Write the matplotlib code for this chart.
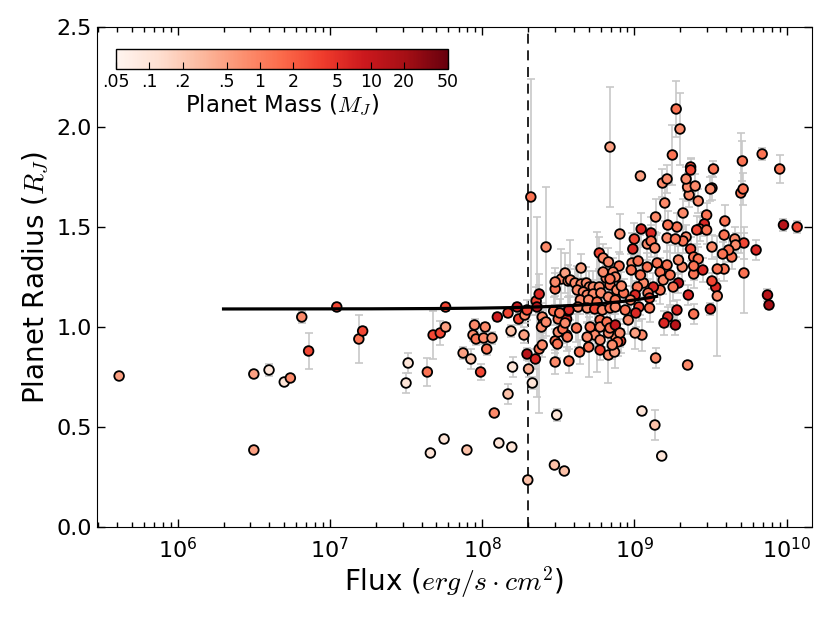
import numpy as np
import matplotlib
matplotlib.use("Agg")
import matplotlib.pyplot as plt
from matplotlib.colors import LogNorm

plt.rcParams['mathtext.fontset'] = 'cm'
plt.rcParams['font.family'] = 'DejaVu Sans'

# log10 of incident flux (erg/s/cm^2)
log_flux = [
    5.615, 6.50, 6.60, 6.70, 6.74, 6.815, 6.86, 7.045, 7.19, 7.215,
    6.50, 7.514, 7.50, 7.64, 7.678, 7.725, 7.76, 7.76, 7.875, 7.926,
    7.95, 7.94, 7.96, 7.99, 8.01, 8.02, 8.03, 8.065, 8.10, 8.08,
    7.66, 7.75, 7.90, 8.11, 8.17, 8.195, 8.17, 8.19, 8.20, 8.23,
    8.24, 8.275, 8.28, 8.295, 8.305, 8.33, 8.30, 8.35, 8.375, 8.32,
    8.42, 8.84, 9.275, 9.30, 9.25, 9.04, 9.37, 9.52, 9.71, 9.84,
    9.955, 9.98, 10.07, 9.875, 9.885, 9.80, 9.72, 9.72, 9.70, 9.715,
    9.66, 9.665, 9.64, 9.62, 9.59, 9.58, 9.595, 9.59, 9.51, 9.50,
    9.535, 9.51, 9.545, 9.51, 9.50, 9.475, 9.46, 9.45, 9.43, 9.42,
    9.36, 9.35, 9.40, 9.34, 9.37, 9.32, 9.20, 9.185, 9.215, 9.14,
    9.28, 9.22, 9.34, 9.32, 9.37, 9.39, 9.42, 9.29, 9.28, 9.27,
    9.22, 9.195, 9.39, 9.355, 9.05, 9.005, 9.14, 9.35, 9.05, 9.135,
    9.18, 8.395, 8.49, 8.48, 8.57, 8.475, 8.54, 8.64, 8.70, 8.775,
    8.83, 8.87, 8.91, 8.875, 8.83, 8.74, 8.555, 8.48, 8.50, 8.295,
    8.355, 8.375, 8.36, 8.395, 8.40, 8.39, 8.42, 8.47, 8.48, 8.52,
    8.545, 8.565, 8.50, 8.555, 8.53, 8.565, 8.77, 8.795, 8.83, 8.90,
    8.905, 8.65, 8.58, 8.61, 8.65, 8.685, 8.705, 8.73, 8.77, 8.815,
    8.86, 8.875, 8.84, 8.885, 8.93, 8.625, 8.665, 8.69, 8.73, 8.78,
    8.83, 8.875, 8.645, 8.70, 8.755, 8.63, 8.69, 8.74, 8.79, 8.84,
    8.875, 8.57, 8.51, 8.545, 8.62, 8.71, 8.775, 8.775, 8.82, 8.84,
    8.875, 8.905, 8.89, 8.495, 8.56, 8.69, 8.855, 8.48, 8.795, 8.84,
    8.915, 9.0, 9.045, 8.99, 8.985, 8.98, 9.025, 9.11, 9.085, 9.11,
    9.135, 9.215, 9.27, 9.41, 9.475, 9.39, 9.15, 9.17, 9.19, 9.215,
    9.235, 9.255, 9.17, 9.125, 9.09, 9.06, 9.04, 9.085, 9.315, 9.29,
    9.39, 9.02, 9.005, 9.10, 9.03, 9.01, 9.10, 9.545, 8.94, 8.96,
    8.975, 8.775,
]

# planet radius (R_J)
radius = [
    0.755, 0.765, 0.785, 0.725, 0.745, 1.05, 0.88, 1.10, 0.94, 0.98,
    0.385, 0.82, 0.72, 0.775, 0.96, 0.97, 1.00, 1.10, 0.87, 0.84,
    1.01, 0.96, 0.94, 0.775, 0.945, 1.00, 0.89, 0.945, 1.05, 0.57,
    0.37, 0.44, 0.385, 0.42, 0.665, 0.40, 1.07, 0.98, 0.80, 1.10,
    1.04, 0.96, 1.06, 0.865, 0.79, 0.72, 0.235, 0.84, 0.89, 1.65,
    1.40, 1.90, 2.09, 1.99, 1.86, 1.755, 1.80, 1.79, 1.83, 1.865,
    1.79, 1.51, 1.50, 1.16, 1.11, 1.385, 1.42, 1.27, 1.67, 1.69,
    1.44, 1.41, 1.35, 1.385, 1.46, 1.365, 1.53, 1.29, 1.40, 1.09,
    1.20, 1.23, 1.29, 1.695, 1.69, 1.56, 1.515, 1.285, 1.49, 1.63,
    1.66, 1.70, 1.705, 1.74, 1.785, 1.57, 1.62, 1.72, 1.74, 1.55,
    1.50, 1.51, 1.45, 1.43, 1.39, 1.35, 1.34, 1.22, 1.085, 1.01,
    1.05, 1.02, 1.065, 1.16, 0.96, 0.97, 0.845, 0.81, 0.58, 0.51,
    0.355, 0.91, 0.56, 0.825, 0.83, 0.31, 0.28, 0.875, 0.90, 0.885,
    0.86, 0.875, 0.93, 0.955, 0.97, 0.96, 0.96, 0.93, 0.975, 1.085,
    1.13, 1.165, 1.10, 1.05, 1.015, 1.00, 1.025, 1.08, 1.19, 1.24,
    1.27, 1.23, 1.04, 1.04, 0.99, 1.08, 1.37, 1.345, 1.325, 1.305,
    1.465, 1.295, 1.235, 1.22, 1.215, 1.22, 1.20, 1.20, 1.20, 1.245,
    1.275, 1.25, 1.21, 1.185, 1.17, 1.185, 1.175, 1.16, 1.165, 1.17,
    1.15, 1.135, 1.135, 1.135, 1.125, 1.10, 1.095, 1.09, 1.085, 1.095,
    1.10, 1.085, 1.07, 1.02, 0.995, 1.00, 1.035, 1.00, 1.025, 0.995,
    1.01, 0.97, 0.925, 0.915, 0.95, 0.95, 0.91, 1.225, 1.275, 1.24,
    1.205, 1.44, 1.49, 1.39, 1.32, 1.285, 1.33, 1.47, 1.415, 1.43,
    1.395, 1.445, 1.44, 1.485, 1.485, 1.265, 1.32, 1.275, 1.235, 1.31,
    1.26, 1.20, 1.185, 1.20, 1.17, 1.22, 1.26, 1.30, 1.30, 1.335,
    1.305, 1.20, 1.16, 1.145, 1.10, 1.07, 1.095, 1.155, 1.085, 1.035,
    1.135, 0.935,
]

radius_err = [
    0.01, 0.01, 0.03, 0.01, 0.01, 0.03, 0.09, 0.02, 0.12, 0.02,
    0.01, 0.05, 0.05, 0.07, 0.12, 0.06, 0.02, 0.02, 0.03, 0.05,
    0.03, 0.03, 0.03, 0.04, 0.03, 0.02, 0.03, 0.03, 0.02, 0.01,
    0.01, 0.02, 0.01, 0.01, 0.05, 0.02, 0.02, 0.03, 0.05, 0.02,
    0.03, 0.04, 0.04, 0.03, 0.04, 0.03, 0.02, 0.05, 0.32, 0.59,
    0.30, 0.30, 0.14, 0.18, 0.15, 0.02, 0.04, 0.04, 0.10, 0.03,
    0.07, 0.03, 0.03, 0.03, 0.02, 0.05, 0.08, 0.20, 0.30, 0.08,
    0.06, 0.06, 0.06, 0.06, 0.08, 0.06, 0.08, 0.06, 0.06, 0.03,
    0.04, 0.04, 0.06, 0.06, 0.06, 0.06, 0.06, 0.06, 0.06, 0.06,
    0.06, 0.07, 0.06, 0.06, 0.06, 0.07, 0.09, 0.07, 0.07, 0.09,
    0.07, 0.07, 0.06, 0.06, 0.06, 0.06, 0.06, 0.05, 0.05, 0.05,
    0.05, 0.06, 0.05, 0.05, 0.08, 0.08, 0.05, 0.02, 0.02, 0.075,
    0.01, 0.06, 0.03, 0.06, 0.06, 0.01, 0.01, 0.06, 0.15, 0.05,
    0.14, 0.08, 0.06, 0.07, 0.07, 0.07, 0.06, 0.06, 0.06, 0.05,
    0.07, 0.10, 0.45, 0.07, 0.07, 0.07, 0.07, 0.07, 0.08, 0.15,
    0.10, 0.08, 0.07, 0.07, 0.07, 0.07, 0.08, 0.07, 0.07, 0.07,
    0.10, 0.07, 0.20, 0.07, 0.08, 0.08, 0.08, 0.08, 0.08, 0.07,
    0.07, 0.07, 0.07, 0.07, 0.07, 0.12, 0.07, 0.07, 0.07, 0.07,
    0.07, 0.07, 0.07, 0.07, 0.35, 0.20, 0.07, 0.07, 0.07, 0.07,
    0.07, 0.07, 0.07, 0.07, 0.07, 0.07, 0.12, 0.07, 0.07, 0.07,
    0.07, 0.07, 0.07, 0.07, 0.07, 0.07, 0.07, 0.07, 0.07, 0.07,
    0.07, 0.08, 0.08, 0.08, 0.15, 0.08, 0.07, 0.08, 0.08, 0.08,
    0.08, 0.07, 0.07, 0.07, 0.07, 0.07, 0.15, 0.07, 0.07, 0.07,
    0.15, 0.07, 0.07, 0.07, 0.07, 0.07, 0.20, 0.07, 0.07, 0.07,
    0.07, 0.07, 0.07, 0.07, 0.07, 0.07, 0.07, 0.30, 0.07, 0.07,
    0.07, 0.07,
]

# planet mass (M_J)
mass = [
    0.5, 0.5, 0.1, 0.1, 0.8, 0.8, 3.0, 3.0, 1.3, 3.0,
    0.5, 0.1, 0.1, 1.3, 3.0, 3.0, 0.5, 3.0, 0.5, 0.25,
    0.8, 0.8, 1.3, 3.0, 0.8, 0.8, 1.3, 0.5, 8, 0.8,
    0.1, 0.1, 0.25, 0.1, 0.25, 0.1, 3.0, 0.25, 0.1, 8,
    3.0, 0.5, 0.8, 13, 0.4, 0.1, 0.25, 6, 1.3, 1.3,
    0.8, 0.5, 1.3, 0.8, 1.3, 0.5, 3.0, 1.3, 1.3, 1.3,
    1.3, 13, 3.0, 13, 20, 6, 3.0, 1.3, 1.3, 1.3,
    0.8, 0.8, 1.3, 1.3, 1.3, 1.3, 1.3, 1.3, 0.8, 6,
    6, 3.0, 1.3, 0.8, 0.8, 1.3, 6, 6, 0.8, 0.8,
    0.8, 0.8, 0.8, 0.8, 3.0, 0.8, 0.8, 0.8, 0.8, 0.8,
    1.3, 1.3, 0.8, 1.3, 3.0, 1.3, 1.3, 13, 6, 13,
    6, 6, 1.3, 6, 0.8, 0.5, 0.8, 0.8, 0.1, 0.25,
    0.1, 0.8, 0.1, 0.8, 1.3, 0.25, 0.25, 1.3, 1.3, 3.0,
    0.8, 0.5, 3.0, 0.8, 0.8, 0.8, 1.3, 1.3, 0.8, 3.0,
    3.0, 6, 13, 0.8, 0.5, 0.8, 0.8, 1.3, 1.3, 0.8,
    0.5, 0.5, 1.3, 6, 1.3, 3.0, 3.0, 0.8, 0.8, 1.3,
    0.8, 0.5, 0.8, 0.8, 0.8, 0.8, 0.8, 0.8, 0.8, 0.8,
    0.8, 0.8, 1.3, 0.8, 1.3, 0.8, 0.8, 0.8, 0.8, 0.8,
    0.8, 1.3, 0.8, 0.8, 1.3, 0.8, 0.8, 3.0, 0.8, 1.3,
    0.8, 6, 1.3, 0.8, 1.3, 1.3, 1.3, 0.8, 1.3, 1.3,
    10, 0.8, 1.3, 1.3, 1.3, 0.8, 0.8, 0.8, 0.8, 1.3,
    0.8, 3.0, 6, 6, 0.8, 1.3, 1.3, 6, 0.8, 1.3,
    0.8, 0.8, 1.3, 3.0, 1.3, 1.3, 1.3, 1.3, 0.8, 1.3,
    1.3, 1.3, 1.3, 6, 1.3, 0.8, 1.3, 1.3, 0.8, 0.8,
    1.3, 1.3, 6, 3.0, 3.0, 6, 1.3, 0.8, 1.3, 0.8,
    0.8, 0.8,
]

mass_ticks = [0.05, 0.1, 0.2, 0.5, 1, 2, 5, 10, 20, 50]
mass_ticklabels = ['.05', '.1', '.2', '.5', '1', '2', '5', '10', '20', '50']
flux_cut = 2e8

# trend curve R = r0 + b*F
def modele(F, r0, b):
    return r0 + b * F

fit_params = (1.09, 4.5e-11)
fit_range = (2e6, 1.4e9)

flux = 10 ** np.array(log_flux)

fig = plt.figure(figsize=(8.3, 6.23), dpi=100)
ax = fig.add_axes([0.1169, 0.1541, 0.8614, 0.8026])

ax.axvline(flux_cut, color='k', ls='--', lw=1.2, dashes=(6, 4), zorder=1)
ax.errorbar(flux, radius, yerr=radius_err, fmt='none', ecolor='#c8c8c8',
            elinewidth=1.2, capsize=3, capthick=1.2, zorder=1)
sc = ax.scatter(flux, radius, c=mass, cmap='Reds', norm=LogNorm(0.05, 50),
                s=48, edgecolors='k', linewidths=1.3, zorder=3)
ff = np.logspace(np.log10(fit_range[0]), np.log10(fit_range[1]), 300)
ax.plot(ff, modele(ff, *fit_params), c='k', lw=2.3, zorder=4)

ax.set_xscale('log')
ax.set_xlim(2.95e5, 1.47e10)
ax.set_ylim(0, 2.5)
ax.set_yticks([0, 0.5, 1.0, 1.5, 2.0, 2.5])
ax.set_yticklabels(['0.0', '0.5', '1.0', '1.5', '2.0', '2.5'])
ax.tick_params(which='both', direction='in', top=True, right=True, labelsize=16)
ax.tick_params(which='major', length=6, width=1)
ax.tick_params(which='minor', length=3.5, width=1)
ax.tick_params(axis='x', pad=7)
ax.set_xlabel(r'Flux ($erg/s \cdot cm^2$)', fontsize=20, labelpad=2)
ax.set_ylabel(r'Planet Radius ($R_J$)', fontsize=20)

cax = fig.add_axes([0.1398, 0.8893, 0.4, 0.0316])
cb = fig.colorbar(sc, cax=cax, orientation='horizontal', ticks=mass_ticks)
cb.ax.minorticks_off()
cb.ax.set_xticklabels(mass_ticklabels)
cb.ax.tick_params(direction='in', length=5, labelsize=12.5, pad=3)
cb.set_label(r'Planet Mass ($M_J$)', fontsize=16.5, labelpad=1)
cb.outline.set_linewidth(1)

fig.savefig('out.png', dpi=100, facecolor='white')
